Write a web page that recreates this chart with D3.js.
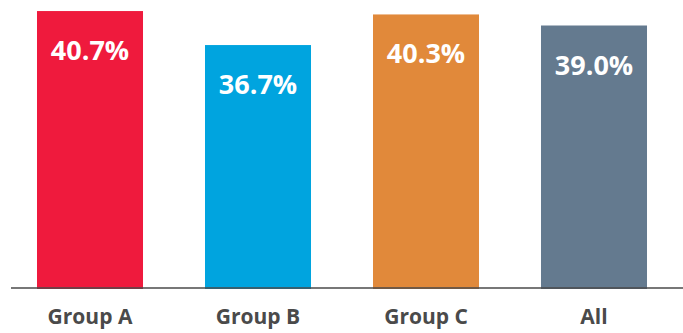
<!DOCTYPE html>
<html>
<head>
<meta charset="utf-8">
<script src="https://cdn.jsdelivr.net/npm/d3@7"></script>
<style>
  html, body { margin: 0; padding: 0; background: #fff; }
  svg { display: block; }
  text { font-family: "Open Sans", "Noto Sans", sans-serif; font-weight: 700; }
</style>
</head>
<body>
<svg id="chart" width="683" height="333"></svg>
<script>
const categories = ["Group A", "Group B", "Group C", "All"];
const values = [40.7, 36.7, 40.3, 39.0];
const colors = ["#ef1a3d", "#00a4df", "#e1893a", "#647a8f"];

let svg = d3.select("#chart"),
    width = +svg.attr("width");

let x = d3.scaleBand()
    .domain(categories)
    .range([6, 678])
    .paddingInner(0.369)
    .paddingOuter(0.1845);

let y = d3.scaleLinear()
    .domain([8, 41])
    .range([289, 8.5]);

svg.append("g")
    .selectAll("rect")
    .data(categories)
    .enter().append("rect")
        .attr("x", d => x(d))
        .attr("width", x.bandwidth())
        .attr("y", (d, i) => y(values[i]))
        .attr("height", (d, i) => y.range()[0] - y(values[i]))
        .attr("fill", (d, i) => colors[i]);

// value labels inside the bars
svg.append("g")
    .selectAll("text")
    .data(categories)
    .enter().append("text")
        .attr("x", d => x(d) + x.bandwidth() / 2)
        .attr("y", (d, i) => y(values[i]) + 49)
        .attr("text-anchor", "middle")
        .attr("fill", "#fff")
        .attr("font-size", 27)
        .text((d, i) => values[i].toFixed(1) + "%");

// baseline
svg.append("line")
    .attr("x1", 11).attr("x2", width)
    .attr("y1", 288).attr("y2", 288)
    .attr("stroke", "#4a4a4a")
    .attr("stroke-width", 1.5);

let xAxis = d3.axisBottom(x).tickSize(0).tickPadding(0);
let gx = svg.append("g")
    .attr("transform", "translate(0,324)")
    .call(xAxis);
gx.select(".domain").remove();
gx.selectAll("text")
    .attr("y", 0)
    .attr("dy", 0)
    .attr("fill", "#4a4a4a")
    .attr("font-size", 21)
    .style("font-family", "'Open Sans', 'Noto Sans', sans-serif")
    .style("font-weight", 700);
</script>
</body>
</html>
